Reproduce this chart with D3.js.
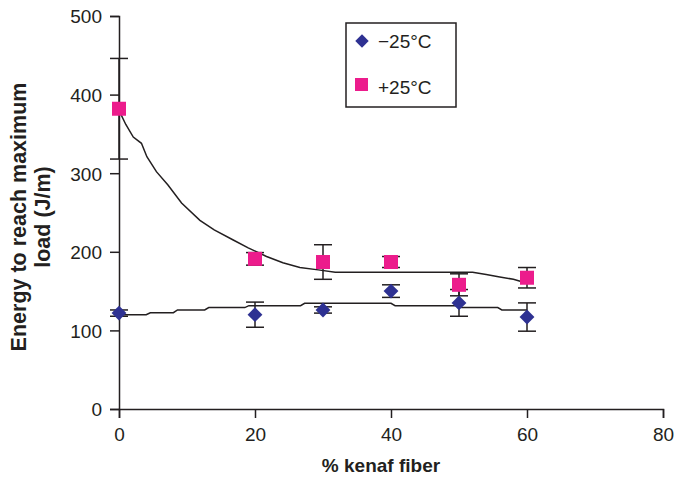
<!DOCTYPE html>
<html>
<head>
<meta charset="utf-8">
<script src="https://cdn.jsdelivr.net/npm/d3@7"></script>
<style>
  body { margin: 0; background: #fff; }
  text { font-family: "Liberation Sans", Arial, sans-serif; fill: #231f20; }
</style>
</head>
<body>
<script>
// data
const fiber = [0, 20, 30, 40, 50, 60];
const coldMean = [122, 120, 126, 150, 135, 117];   // -25 C
const coldErr  = [4, 16, 4, 8, 17, 18];
const warmMean = [382, 191, 187, 187, 158, 167];   // +25 C
const warmErr  = [64, 8, 22, 7, 14, 13];

// trend lines as traced
const warmTrendX = [0, 1, 2.1, 3.3, 4.1, 5.5, 7.2, 9.2, 11.9, 14, 16.8, 19, 21.7, 24.1, 26.6, 29.3, 31.8, 52, 54, 56, 58, 60];
const warmTrendY = [380, 362, 346, 338, 321, 302, 285, 262, 240, 228, 215, 205, 194, 186, 180, 177, 174, 174, 171, 168, 165, 160];
const coldTrendX = [0, 4, 4.6, 8, 8.6, 12.6, 13.2, 18.5, 19.1, 26.7, 27.3, 40, 40.6, 49.8, 50.4, 55.7, 56.3, 60];
const coldTrendY = [120, 120, 122.5, 122.5, 126, 126, 129, 129, 131.5, 131.5, 134.5, 134.5, 131.5, 131.5, 129, 129, 126, 126];

const xTicks = [0, 20, 40, 60, 80];
const yTicks = [0, 100, 200, 300, 400, 500];

const W = 680, H = 479;
const margin = {top: 16, right: 17, bottom: 70, left: 119};

let svg = d3.select('body')
  .append('svg')
  .attr('width', W)
  .attr('height', H);

const x = d3.scaleLinear().domain([0, 80]).range([margin.left, W - margin.right]);
const y = d3.scaleLinear().domain([0, 500]).range([H - margin.bottom, margin.top]);

// axes
let xAxis = svg.append('g')
  .attr('transform', `translate(0, ${y(0)})`)
  .call(d3.axisBottom(x).tickValues(xTicks).tickSize(9).tickPadding(10));
let yAxis = svg.append('g')
  .attr('transform', `translate(${x(0)}, 0)`)
  .call(d3.axisLeft(y).tickValues(yTicks).tickSize(9).tickPadding(8));

[xAxis, yAxis].forEach((a) => {
  a.select('.domain').attr('stroke', '#231f20').attr('stroke-width', 1.5);
  a.selectAll('.tick line').attr('stroke', '#231f20').attr('stroke-width', 1.5);
  a.selectAll('.tick text').attr('font-size', 19).attr('fill', '#231f20')
    .style('font-family', '"Liberation Sans", Arial, sans-serif');
});
yAxis.selectAll('.tick text').attr('dy', '0.36em');

// titles
svg.append('text')
  .attr('x', 381)
  .attr('y', 472)
  .attr('text-anchor', 'middle')
  .attr('font-size', 19)
  .attr('font-weight', 'bold')
  .text('% kenaf fiber');

let yt = svg.append('text')
  .attr('transform', `translate(26, 217) rotate(-90)`)
  .attr('text-anchor', 'middle')
  .attr('font-size', 21.5)
  .attr('font-weight', 'bold');
yt.append('tspan').attr('x', 0).attr('dy', 0).text('Energy to reach maximum');
yt.append('tspan').attr('x', 0).attr('dy', 24).text('load (J/m)');

// trend lines
const line = d3.line().x((d) => x(d[0])).y((d) => y(d[1]));
svg.append('path')
  .attr('d', line(d3.zip(warmTrendX, warmTrendY)))
  .attr('fill', 'none').attr('stroke', '#231f20').attr('stroke-width', 1.5);
svg.append('path')
  .attr('d', line(d3.zip(coldTrendX, coldTrendY)))
  .attr('fill', 'none').attr('stroke', '#231f20').attr('stroke-width', 1.5);

// error bars
const drawErr = (means, errs) => {
  let g = svg.append('g').attr('stroke', '#231f20').attr('stroke-width', 1.5);
  fiber.forEach((f, i) => {
    let cx = x(f), lo = y(means[i] - errs[i]), hi = y(means[i] + errs[i]);
    g.append('line').attr('x1', cx).attr('x2', cx).attr('y1', lo).attr('y2', hi);
    g.append('line').attr('x1', cx - 9).attr('x2', cx + 9).attr('y1', lo).attr('y2', lo);
    g.append('line').attr('x1', cx - 9).attr('x2', cx + 9).attr('y1', hi).attr('y2', hi);
  });
};
drawErr(coldMean, coldErr);
drawErr(warmMean, warmErr);

const navy = '#2e3192', pink = '#ec1c8c';
const diamond = d3.symbol().type(d3.symbolSquare).size(110);

// markers
svg.append('g').selectAll('path')
  .data(d3.zip(fiber, coldMean))
  .enter().append('path')
  .attr('d', diamond)
  .attr('transform', (d) => `translate(${x(d[0])}, ${y(d[1])}) rotate(45)`)
  .attr('fill', navy);

svg.append('g').selectAll('rect')
  .data(d3.zip(fiber, warmMean))
  .enter().append('rect')
  .attr('x', (d) => x(d[0]) - 7)
  .attr('y', (d) => y(d[1]) - 7)
  .attr('width', 14).attr('height', 14)
  .attr('fill', pink);

// legend
let lg = svg.append('g');
lg.append('rect')
  .attr('x', 346).attr('y', 23).attr('width', 110).attr('height', 84)
  .attr('fill', '#fff').attr('stroke', '#231f20').attr('stroke-width', 1.5);
lg.append('path').attr('d', d3.symbol().type(d3.symbolSquare).size(90))
  .attr('transform', 'translate(362, 41) rotate(45)').attr('fill', navy);
lg.append('rect').attr('x', 355).attr('y', 78).attr('width', 13).attr('height', 13).attr('fill', pink);
lg.append('text').attr('x', 378).attr('y', 48).attr('font-size', 19).text('\u221225\u00b0C');
lg.append('text').attr('x', 378).attr('y', 94).attr('font-size', 19).text('+25\u00b0C');
</script>
</body>
</html>
